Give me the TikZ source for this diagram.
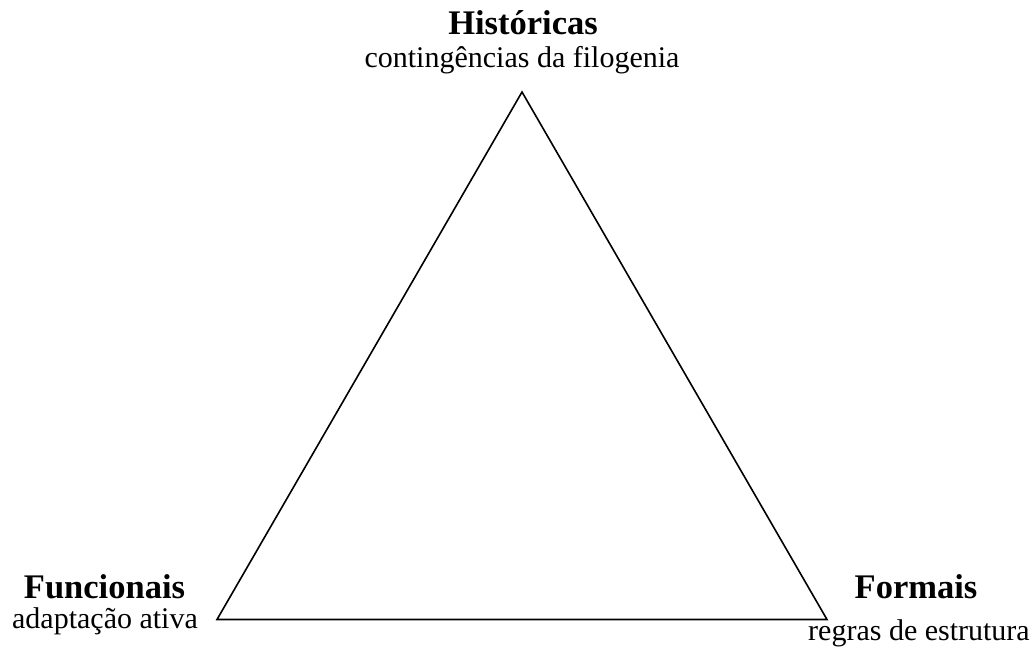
\documentclass[tikz,border=0pt]{standalone}
\usepackage{fontspec}
\setmainfont{Liberation Serif}
\tikzset{
  title/.style={anchor=base, inner sep=0pt, font=\fontsize{34.5}{40}\selectfont\bfseries},
  sub/.style={anchor=base, inner sep=0pt, font=\fontsize{30}{35}\selectfont},
  edge/.style={draw=black, line width=1.6pt, line join=miter}
}
\begin{document}
\begin{tikzpicture}[x=1pt,y=-1pt]
\useasboundingbox (0,0) rectangle (1034,660);
\coordinate (top) at (522,92);
\coordinate (bl) at (217,619.5);
\coordinate (br) at (827,619.5);
\draw[edge] (top) -- (bl) -- (br) -- cycle;
\node[title] (hist) at (523,35) {Históricas};
\node[sub] (histsub) at (522,68) {contingências da filogenia};
\node[title] (func) at (104.5,598) {Funcionais};
\node[sub] (funcsub) at (105,628) {adaptação ativa};
\node[title] (form) at (916,598) {Formais};
\node[sub] (formsub) at (919,640) {regras de estrutura};
\end{tikzpicture}
\end{document}
